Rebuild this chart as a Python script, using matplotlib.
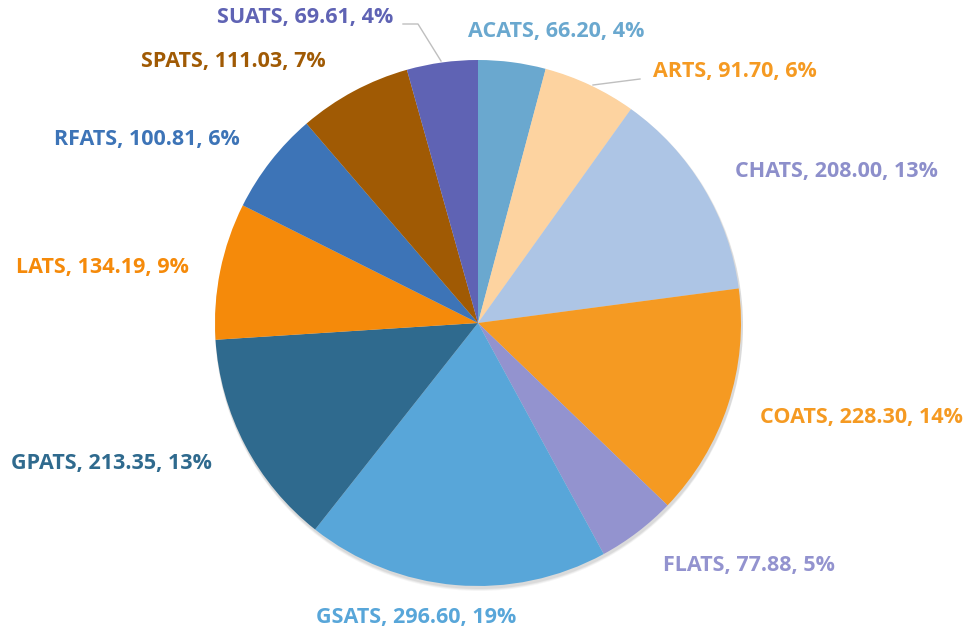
import matplotlib.pyplot as plt
from matplotlib.patches import Circle

names = ['ACATS', 'ARTS', 'CHATS', 'COATS', 'FLATS', 'GSATS', 'GPATS', 'LATS', 'RFATS', 'SPATS', 'SUATS']
values = [66.20, 91.70, 208.00, 228.30, 77.88, 296.60, 213.35, 134.19, 100.81, 111.03, 69.61]
percents = ['4%', '6%', '13%', '14%', '5%', '19%', '13%', '9%', '6%', '7%', '4%']

slice_colors = ['#6AA8CF', '#FDD3A0', '#ADC5E5', '#F59A22', '#9393CF', '#58A6D9',
                '#2F6A8E', '#F58A0A', '#3D74B7', '#A05A04', '#5F63B4']
text_colors = ['#6AA8CF', '#F59A22', '#8D8FCB', '#F59A22', '#9393CF', '#58A6D9',
               '#2F6A8E', '#F58A0A', '#3D74B7', '#A05A04', '#5F63B4']
# label centres in pixels (x from left, y from top)
label_pos = [(556, 32), (735, 72), (836, 172), (861, 418), (749, 565), (416, 618),
             (111, 463), (102, 268), (147, 140), (233, 62), (305, 17)]

W, H = 973, 633
fig = plt.figure(figsize=(W / 100, H / 100), dpi=100)
ax = fig.add_axes([0, 0, 1, 1])

cx, cy, r = 478, H - 323, 263
# soft shadow under the pie
for k, a in [(4, 0.04), (3, 0.05), (2, 0.06)]:
    ax.add_patch(Circle((cx + 1, cy - k), r + 1, facecolor='black', alpha=a, lw=0, zorder=0))
wedges, _ = ax.pie(values, colors=slice_colors, startangle=90, counterclock=False,
                   center=(cx, cy), radius=r, frame=True,
                   wedgeprops=dict(linewidth=0, zorder=2))
ax.set_xlim(0, W)
ax.set_ylim(0, H)
ax.set_aspect('equal')
ax.axis('off')

for n, v, p, c, (tx, ty) in zip(names, values, percents, text_colors, label_pos):
    ax.text(tx, H - ty, f'{n}, {v:.2f}, {p}', color=c, ha='center', va='center',
            fontsize=15.5, fontweight='bold', family=['Open Sans', 'DejaVu Sans'])

# leader lines
ax.plot([403, 418, 441], [H - 24, H - 24, H - 61], color='#BFBFBF', lw=1)
ax.plot([593, 640], [H - 85, H - 79], color='#BFBFBF', lw=1)

fig.savefig('out.png', dpi=100)
